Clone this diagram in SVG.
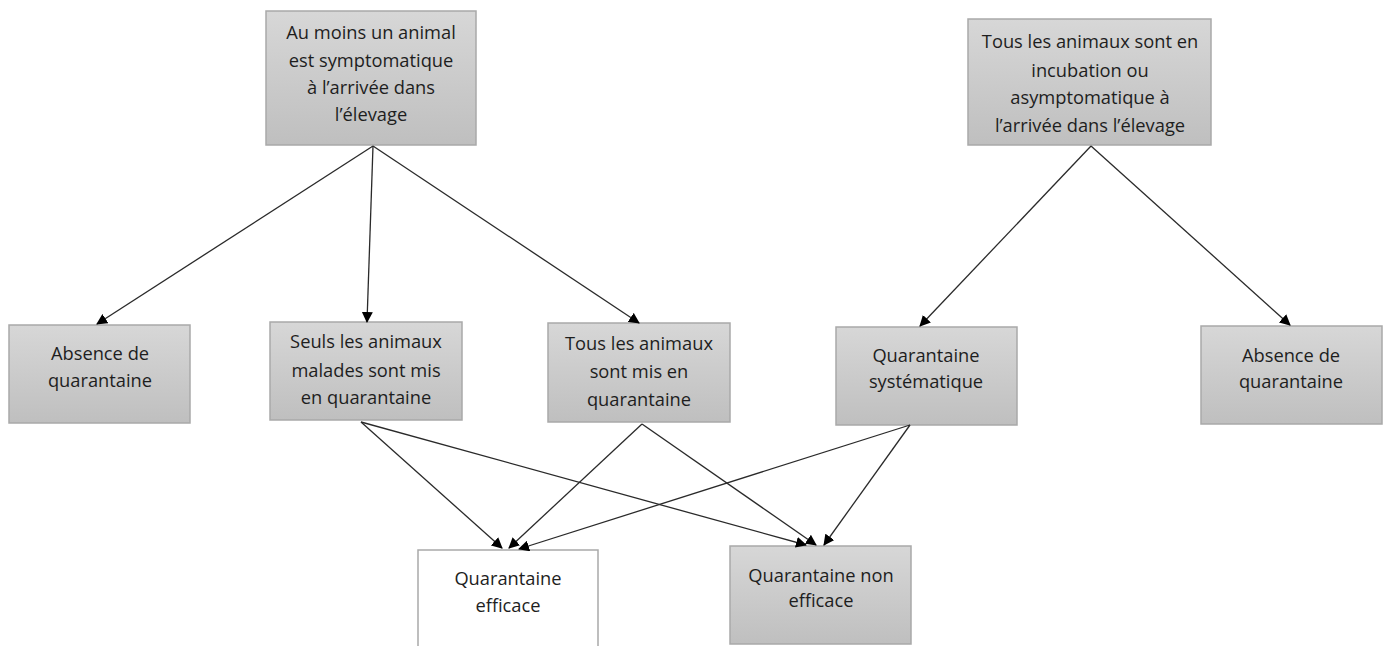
<svg xmlns="http://www.w3.org/2000/svg" width="1388" height="646" viewBox="0 0 1388 646">
<defs>
<linearGradient id="g" x1="0" y1="0" x2="0" y2="1">
<stop offset="0" stop-color="#d7d7d7"/>
<stop offset="1" stop-color="#bfbfbf"/>
</linearGradient>
<marker id="arr" markerWidth="11" markerHeight="11" refX="10" refY="5.5" orient="auto" markerUnits="userSpaceOnUse" viewBox="0 0 11 11">
<path d="M0,0 L11,5.5 L0,11 z" fill="#000"/>
</marker>
<style>
.box{fill:url(#g);stroke:#a9a9a9;stroke-width:1.5}
.wbox{fill:#fff;stroke:#a9a9a9;stroke-width:1.5}
text{font-family:"Open Sans","Liberation Sans",sans-serif;font-size:18.3px;fill:#1e1e1e;text-anchor:middle}
.c line{stroke:#2a2a2a;stroke-width:1.3;marker-end:url(#arr)}
</style>
</defs>
<rect width="1388" height="646" fill="#fff"/>
<g id="n1"><rect class="box" x="266" y="11" width="210" height="134"/>
<text x="371" y="39">Au moins un animal</text><text x="371" y="67">est symptomatique</text><text x="371" y="94">à l’arrivée dans</text><text x="371" y="121">l’élevage</text></g>
<g id="n2"><rect class="box" x="968" y="19" width="243" height="126"/>
<text x="1090" y="48">Tous les animaux sont en</text><text x="1090" y="77">incubation ou</text><text x="1090" y="104">asymptomatique à</text><text x="1090" y="132">l’arrivée dans l’élevage</text></g>
<g id="n3"><rect class="box" x="9" y="325" width="181" height="98"/>
<text x="100" y="360">Absence de</text><text x="100" y="387">quarantaine</text></g>
<g id="n4"><rect class="box" x="270" y="322" width="192" height="98"/>
<text x="366" y="348">Seuls les animaux</text><text x="366" y="377">malades sont mis</text><text x="366" y="404">en quarantaine</text></g>
<g id="n5"><rect class="box" x="548" y="323" width="182" height="99"/>
<text x="639" y="350">Tous les animaux</text><text x="639" y="378">sont mis en</text><text x="639" y="406">quarantaine</text></g>
<g id="n6"><rect class="box" x="836" y="327" width="181" height="98"/>
<text x="926" y="362">Quarantaine</text><text x="926" y="388">systématique</text></g>
<g id="n7"><rect class="box" x="1201" y="326" width="181" height="98"/>
<text x="1291" y="362">Absence de</text><text x="1291" y="388">quarantaine</text></g>
<g id="n8"><rect class="wbox" x="418" y="550" width="180" height="100"/>
<text x="508" y="585">Quarantaine</text><text x="508" y="612">efficace</text></g>
<g id="n9"><rect class="box" x="730" y="546" width="181" height="98"/>
<text x="821" y="582">Quarantaine non</text><text x="821" y="607">efficace</text></g>
<g class="c" id="connectors">
<line x1="373" y1="146" x2="97" y2="324"/>
<line x1="373" y1="146" x2="367" y2="322"/>
<line x1="373" y1="146" x2="639" y2="323"/>
<line x1="1091" y1="146" x2="920" y2="326"/>
<line x1="1091" y1="146" x2="1290" y2="325"/>
<line x1="361" y1="422" x2="502" y2="548"/>
<line x1="361" y1="422" x2="806" y2="545"/>
<line x1="642" y1="424" x2="509" y2="548"/>
<line x1="642" y1="424" x2="816" y2="545"/>
<line x1="910" y1="425" x2="519" y2="549"/>
<line x1="910" y1="425" x2="824" y2="545"/>
</g>
</svg>
